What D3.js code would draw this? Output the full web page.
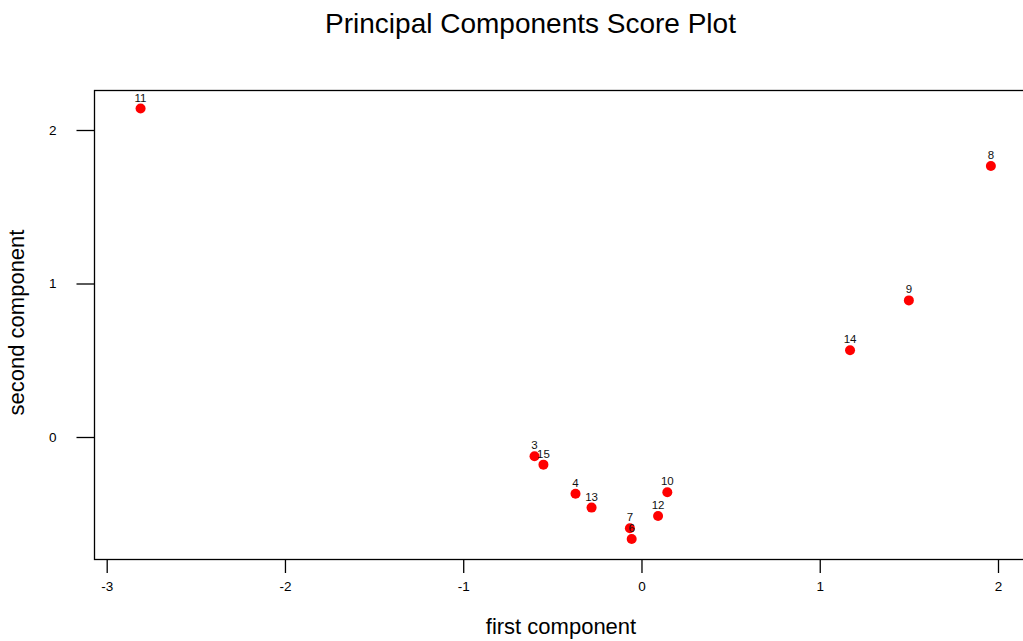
<!DOCTYPE html>
<html>
<head>
<meta charset="utf-8">
<script src="https://cdn.jsdelivr.net/npm/d3@7"></script>
<style>
  html, body { margin: 0; padding: 0; background: #fff; }
  svg { display: block; font-family: "Liberation Sans", Arial, sans-serif; }
</style>
</head>
<body>
<svg id="chart" width="1023" height="641"></svg>
<script>
// Data
const labels = ["11", "8", "9", "14", "3", "15", "4", "13", "7", "6", "12", "10"];
const pc1 = [-2.81, 1.96, 1.50, 1.17, -0.60, -0.55, -0.37, -0.28, -0.065, -0.055, 0.093, 0.145];
const pc2 = [2.14, 1.765, 0.89, 0.565, -0.125, -0.18, -0.37, -0.46, -0.595, -0.665, -0.515, -0.36];
const xTicks = [-3, -2, -1, 0, 1, 2];
const yTicks = [0, 1, 2];

const title = "Principal Components Score Plot";
const xTitle = "first component";
const yTitle = "second component";

const svg = d3.select("#chart");
const box = { left: 94.5, top: 90.5, right: 1030, bottom: 559.5 };

const x = d3.scaleLinear().domain([-3, 2]).range([106.7, 998]);
const y = d3.scaleLinear().domain([0, 2]).range([437, 130]);

// plot box
svg.append("rect")
  .attr("x", box.left).attr("y", box.top)
  .attr("width", box.right - box.left).attr("height", box.bottom - box.top)
  .attr("fill", "none").attr("stroke", "#000").attr("stroke-width", 1.3);

// x axis
const xAxis = d3.axisBottom(x).tickValues(xTicks).tickSize(13).tickPadding(8)
  .tickFormat(d => String(d));
const gx = svg.append("g").attr("transform", `translate(0,${box.bottom + 0.5})`).call(xAxis);
gx.select(".domain").remove();
gx.selectAll(".tick line").attr("stroke", "#000").attr("stroke-width", 1.3);
gx.selectAll(".tick text").attr("font-size", 13.5).attr("fill", "#000")
  .attr("font-family", "'Liberation Sans', Arial, sans-serif");

// y axis
const yAxis = d3.axisLeft(y).tickValues(yTicks).tickSize(18).tickPadding(20)
  .tickFormat(d => String(d));
const gy = svg.append("g").attr("transform", `translate(${box.left},0)`).call(yAxis);
gy.select(".domain").remove();
gy.selectAll(".tick line").attr("stroke", "#000").attr("stroke-width", 1.3);
gy.selectAll(".tick text").attr("font-size", 13.5).attr("fill", "#000")
  .attr("font-family", "'Liberation Sans', Arial, sans-serif");

// points
const data = labels.map((l, i) => ({ l, x: pc1[i], y: pc2[i] }));
svg.append("g").selectAll("circle").data(data).join("circle")
  .attr("cx", d => x(d.x)).attr("cy", d => y(d.y)).attr("r", 5)
  .attr("fill", "#ff0000");

// labels
svg.append("g").selectAll("text").data(data).join("text")
  .attr("x", d => x(d.x)).attr("y", d => y(d.y) - 7)
  .attr("text-anchor", "middle").attr("font-size", 11.5).attr("fill", "#111")
  .text(d => d.l);

// titles
svg.append("text").attr("x", 530.5).attr("y", 33).attr("text-anchor", "middle")
  .attr("font-size", 28).attr("fill", "#000").text(title);
svg.append("text").attr("x", 561).attr("y", 634).attr("text-anchor", "middle")
  .attr("font-size", 22).attr("fill", "#000").text(xTitle);
svg.append("text").attr("transform", "translate(24,322.5) rotate(-90)")
  .attr("text-anchor", "middle").attr("font-size", 22).attr("fill", "#000").text(yTitle);
</script>
</body>
</html>
